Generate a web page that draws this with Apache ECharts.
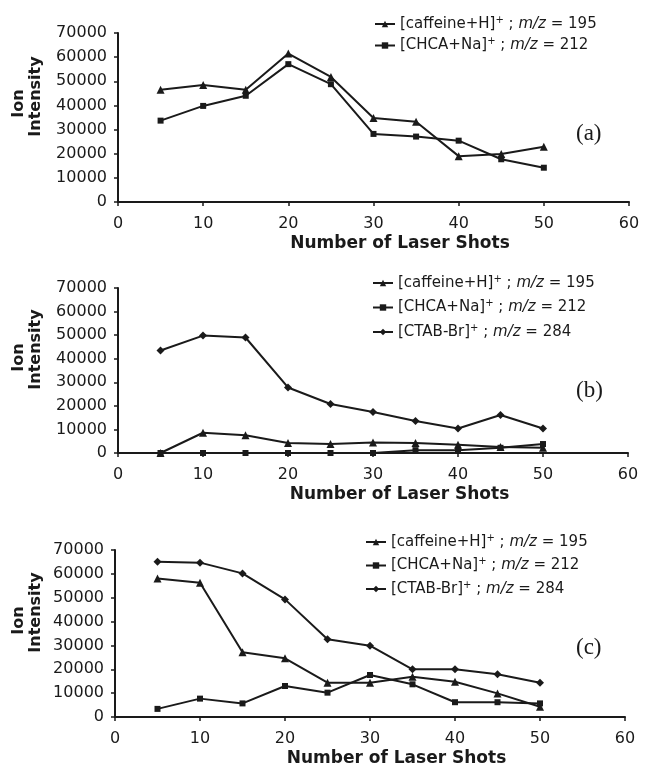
<!DOCTYPE html>
<html>
<head>
<meta charset="utf-8">
<script src="https://cdn.jsdelivr.net/npm/echarts@6/dist/echarts.min.js"></script>
<style>
html,body{margin:0;padding:0;background:#fff;}
#chart{width:646px;height:773px;}
</style>
</head>
<body>
<div id="chart"></div>
<script>
// ---- data ----
const shots = [5, 10, 15, 20, 25, 30, 35, 40, 45, 50];
const xTicks = [0, 10, 20, 30, 40, 50, 60];
const yTicks = [0, 10000, 20000, 30000, 40000, 50000, 60000, 70000];

const nameCaffeine = '[caffeine+H]+ ; m/z = 195';
const nameChca = '[CHCA+Na]+ ; m/z = 212';
const nameCtab = '[CTAB-Br]+ ; m/z = 284';

// panel (a)
const aCaffeine = [46500, 48500, 46500, 61500, 51800, 34800, 33200, 19000, 19900, 22900];
const aChca     = [33700, 39800, 44000, 57100, 48800, 28200, 27100, 25400, 17700, 14200];
// panel (b)
const bCaffeine = [0, 8600, 7500, 4200, 3800, 4500, 4200, 3500, 2500, 2200];
const bChca     = [0, 0, 0, 0, 0, 0, 1200, 1200, 2200, 3800];
const bCtab     = [43500, 49800, 49000, 27800, 20800, 17400, 13600, 10400, 16100, 10400];
// panel (c)
const cCaffeine = [58100, 56300, 27100, 24600, 14400, 14400, 16900, 14800, 9900, 4300];
const cChca     = [3400, 7700, 5700, 13000, 10200, 17600, 13700, 6200, 6200, 5700];
const cCtab     = [65100, 64700, 60200, 49300, 32600, 29900, 20000, 20000, 17900, 14400];

const panelLabels = ['(a)', '(b)', '(c)'];
const xTitle = 'Number of Laser Shots';
const yTitle1 = 'Ion';
const yTitle2 = 'Intensity';

// ---- styling / layout ----
const INK = '#1a1a1a';
const SANS = 'DejaVu Sans';
const grids = [
  {left: 118, top: 33, width: 511, height: 169},
  {left: 118, top: 288, width: 510, height: 165},
  {left: 115, top: 550, width: 510, height: 167}
];
const legendPos = [
  {left: 374, top: 15, gap: 5},
  {left: 372, top: 274, gap: 8},
  {left: 365, top: 533, gap: 7}
];
const symbolOf = {};
symbolOf[nameCaffeine] = {symbol: 'triangle', size: 8};
symbolOf[nameChca] = {symbol: 'rect', size: 6};
symbolOf[nameCtab] = {symbol: 'diamond', size: 8};

function pairs(vals) { return shots.map((s, i) => [s, vals[i]]); }

function legendFmt(name) {
  const m = name.match(/^(\[[^\]]+\])\+ ; m\/z = (\d+)$/);
  return '{n|' + m[1] + '}{s|+}{n| ; }{i|m/z}{n| = ' + m[2] + '}';
}

const panels = [
  [[nameCaffeine, aCaffeine], [nameChca, aChca]],
  [[nameCaffeine, bCaffeine], [nameChca, bChca], [nameCtab, bCtab]],
  [[nameCaffeine, cCaffeine], [nameChca, cChca], [nameCtab, cCtab]]
];

const option = {
  backgroundColor: '#fff',
  animation: false,
  grid: grids.map(g => Object.assign({outerBoundsMode: 'none', containLabel: false}, g)),
  xAxis: grids.map((g, i) => ({
    gridIndex: i, type: 'value', min: xTicks[0], max: xTicks[xTicks.length - 1], interval: 10,
    name: xTitle, nameLocation: 'middle', nameGap: 33,
    nameTextStyle: {fontFamily: SANS, fontWeight: 'bold', fontSize: 17, color: INK, padding: [0, 0, 0, 53]},
    axisLine: {show: true, onZero: false, lineStyle: {color: INK, width: 2}},
    axisTick: {show: true, inside: false, length: 4, lineStyle: {color: INK, width: 1.5}},
    axisLabel: {fontFamily: SANS, fontSize: 16, color: INK, margin: 14, formatter: v => String(v)},
    splitLine: {show: false}
  })),
  yAxis: grids.map((g, i) => ({
    gridIndex: i, type: 'value', min: yTicks[0], max: yTicks[yTicks.length - 1], interval: 10000,
    axisLine: {show: true, lineStyle: {color: INK, width: 2}},
    axisTick: {show: true, inside: false, length: 4, lineStyle: {color: INK, width: 1.5}},
    axisLabel: {fontFamily: SANS, fontSize: 16, color: INK, margin: 11, formatter: v => String(v)},
    splitLine: {show: false}
  })),
  legend: panels.map((p, i) => ({
    data: p.map(s => s[0]),
    orient: 'vertical',
    left: legendPos[i].left, top: legendPos[i].top,
    padding: 0,
    itemGap: legendPos[i].gap,
    itemWidth: 20, itemHeight: 8,
    selectedMode: false,
    formatter: legendFmt,
    textStyle: {
      color: INK, fontFamily: SANS, fontSize: 15, padding: [0, 0, 0, 0],
      rich: {
        n: {fontFamily: SANS, fontSize: 15, color: INK, lineHeight: 18, verticalAlign: 'middle'},
        i: {fontFamily: SANS, fontSize: 15, fontStyle: 'italic', color: INK, lineHeight: 18, verticalAlign: 'middle'},
        s: {fontFamily: SANS, fontSize: 10, color: INK, lineHeight: 12, verticalAlign: 'top'}
      }
    }
  })),
  series: [],
  graphic: []
};

panels.forEach((p, i) => {
  p.forEach(([name, vals]) => {
    option.series.push({
      type: 'line', name: name, xAxisIndex: i, yAxisIndex: i,
      data: pairs(vals),
      symbol: symbolOf[name].symbol, symbolSize: symbolOf[name].size,
      showSymbol: true,
      lineStyle: {color: INK, width: 2},
      itemStyle: {color: INK, borderColor: INK, borderWidth: 0},
      emphasis: {disabled: true}
    });
  });
  const g = grids[i];
  const mid = g.top + g.height / 2;
  // y-axis title lines (rotated)
  option.graphic.push({
    type: 'text', x: 18.5, y: mid - 13 + (i === 0 ? -1 : 0), rotation: Math.PI / 2,
    style: {text: yTitle1, fontFamily: SANS, fontWeight: 'bold', fontSize: 16, fill: INK, align: 'center', verticalAlign: 'middle'}
  });
  option.graphic.push({
    type: 'text', x: 36, y: mid - 21, rotation: Math.PI / 2,
    style: {text: yTitle2, fontFamily: SANS, fontWeight: 'bold', fontSize: 16, fill: INK, align: 'center', verticalAlign: 'middle'}
  });
  // panel label
  option.graphic.push({
    type: 'text', left: 576, top: [122, 379, 636][i],
    style: {text: panelLabels[i], fontFamily: 'Liberation Serif', fontSize: 23, fill: INK}
  });
});

const chart = echarts.init(document.getElementById('chart'), null, {renderer: 'canvas'});
chart.setOption(option);
</script>
</body>
</html>
